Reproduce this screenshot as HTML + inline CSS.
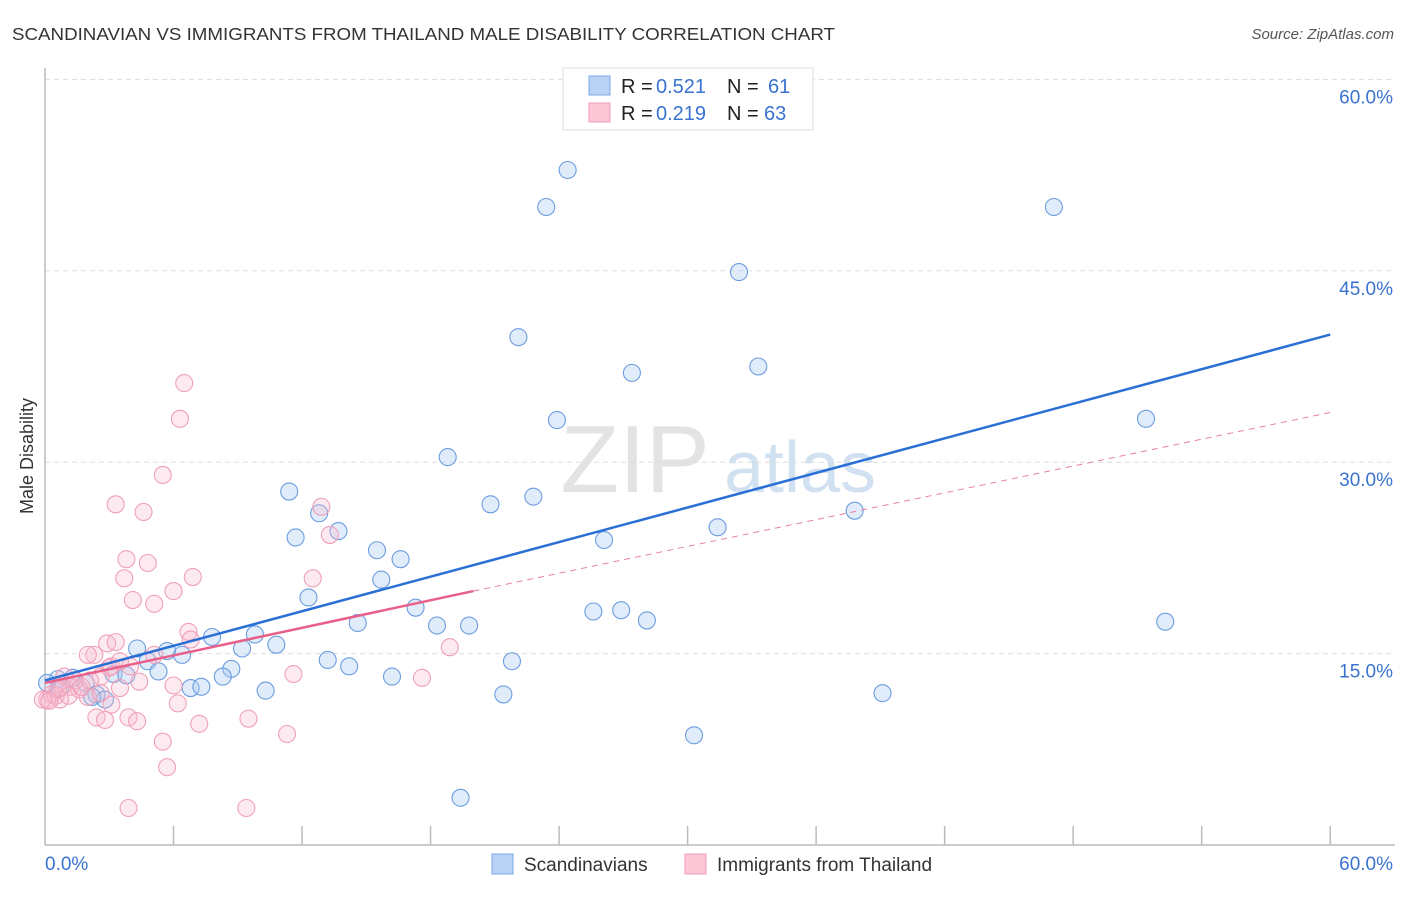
<!DOCTYPE html>
<html><head><meta charset="utf-8"><style>
body{margin:0;background:#fff;font-family:"Liberation Sans",sans-serif}
svg text{font-family:"Liberation Sans",sans-serif}
</style></head><body>
<svg width="1406" height="892" xmlns="http://www.w3.org/2000/svg">
<text x="12" y="40" font-size="17.5" fill="#333" textLength="823" lengthAdjust="spacingAndGlyphs">SCANDINAVIAN VS IMMIGRANTS FROM THAILAND MALE DISABILITY CORRELATION CHART</text>
<text x="1394" y="39" font-size="15" fill="#555" text-anchor="end" font-style="italic">Source: ZipAtlas.com</text>
<text x="33" y="456" font-size="18" fill="#333" text-anchor="middle" transform="rotate(-90 33 456)">Male Disability</text>
<g><text x="635" y="492" font-size="96" fill="#ddd" text-anchor="middle" font-family="Liberation Serif" opacity="0.8">ZIP</text><text x="800" y="492" font-size="72" fill="#c8daf0" text-anchor="middle" opacity="0.8">atlas</text></g>
<g id="grid"></g><g id="axes"></g><g id="pts"></g><g id="lines"></g>
<g>
<rect x="563" y="68" width="250" height="62" fill="#fff" stroke="#ddd"/>
<rect x="589" y="76" width="21" height="19" fill="#b8d3f5" stroke="#7aa8e8"/>
<rect x="589" y="103" width="21" height="19" fill="#fcc8d6" stroke="#f09ab3"/>
<text x="621" y="93" font-size="20" fill="#222">R = </text><text x="656" y="93" font-size="20" fill="#3a73d0">0.521</text>
<text x="727" y="93" font-size="20" fill="#222">N = </text><text x="768" y="93" font-size="20" fill="#3a73d0">61</text>
<text x="621" y="120" font-size="20" fill="#222">R = </text><text x="656" y="120" font-size="20" fill="#3a73d0">0.219</text>
<text x="727" y="120" font-size="20" fill="#222">N = </text><text x="764" y="120" font-size="20" fill="#3a73d0">63</text>
</g>
<g>
<rect x="492" y="854" width="21" height="20" fill="#b8d3f5" stroke="#7aa8e8"/>
<text x="524" y="871" font-size="19" fill="#333">Scandinavians</text>
<rect x="685" y="854" width="21" height="20" fill="#fcc8d6" stroke="#f09ab3"/>
<text x="717" y="871" font-size="19" fill="#333">Immigrants from Thailand</text>
</g>
<text x="45" y="870" font-size="19" fill="#3a73d0">0.0%</text>
<text x="1393" y="870" font-size="19" fill="#3a73d0" text-anchor="end">60.0%</text>
</svg>
<script>
const yTicks=[15,30,45,60];
const blueX=[24.4,23.4,47.1,32.4,22.1,27.4,33.3,23.9,51.4,18.8,11.4,20.8,22.8,12.8,13.7,37.8,31.4,11.7,26.1,15.5,16.6,15.7,12.3,17.3,25.6,26.9,28.1,52.3,14.6,18.3,19.8,7.8,9.8,10.8,4.3,9.2,5.7,6.4,4.8,13.2,21.8,14.2,8.7,5.3,8.3,16.2,3.2,3.8,10.3,6.8,7.3,21.4,39.1,0.6,0.1,1.3,1.9,2.4,2.8,30.3,19.4,2.2,0.7];
const blueY=[52.9,50.0,50.0,44.9,39.8,37.0,37.5,33.3,33.4,30.4,27.7,26.7,27.3,26.0,24.6,26.2,24.9,24.1,23.9,23.1,22.4,20.8,19.4,18.6,18.3,18.4,17.6,17.5,17.4,17.2,17.2,16.3,16.5,15.7,15.4,15.4,15.2,14.9,14.4,14.5,14.4,14.0,13.8,13.6,13.2,13.2,13.4,13.3,12.1,12.3,12.4,11.8,11.9,13.0,12.7,13.1,12.7,11.8,11.4,8.6,3.7,11.6,12.3];
const pinkX=[6.5,6.3,5.5,3.3,4.6,12.9,13.3,3.8,4.8,3.7,6.9,12.5,6.0,4.1,5.1,6.7,2.9,6.8,3.3,2.3,18.9,11.6,17.6,4.4,3.5,6.0,2.6,2.0,3.1,0.9,1.2,1.6,2.0,2.6,0.3,0.7,0.1,0.5,1.4,0.8,6.2,3.1,2.4,2.8,3.9,4.3,7.2,9.5,11.3,5.5,5.7,3.9,9.4,0.6,1.1,1.7,2.1,3.0,3.97,5.1,3.5,-0.1,0.2];
const pinkY=[36.2,33.4,29.0,26.7,26.1,26.5,24.3,22.4,22.1,20.9,21.0,20.9,19.9,19.2,18.9,16.7,15.8,16.1,15.9,14.9,15.5,13.4,13.1,12.8,12.3,12.5,13.2,14.9,14.0,13.2,12.4,12.2,11.6,11.9,11.8,11.4,11.4,11.7,12.9,12.4,11.1,11.0,10.0,9.8,10.0,9.7,9.5,9.9,8.7,8.1,6.1,2.9,2.9,12.2,11.7,12.4,12.9,13.9,14.0,14.9,14.4,11.4,11.3];
const blueLine=[[0,12.9],[60,40.0]];
const pinkSolid=[[0,12.7],[20,19.9]];
const pinkDash=[[20,19.9],[60,33.9]];
const X=v=>45+v*21.42, Y=v=>845-v*12.76;
const NS='http://www.w3.org/2000/svg';
function mk(t,a,p){const e=document.createElementNS(NS,t);for(const k in a)e.setAttribute(k,a[k]);document.getElementById(p).appendChild(e);return e;}
yTicks.forEach(t=>{
 const l=mk('line',{x1:45,x2:1393,y1:Y(t),y2:Y(t),stroke:'#ddd','stroke-dasharray':'5,4'},'grid');
 
 
 const tx=mk('text',{x:1393,y:Y(t)+24,'font-size':19,fill:'#3a73d0','text-anchor':'end'},'grid');
 tx.textContent=t.toFixed(1)+'%';
 
 
});
const a1=mk('line',{x1:45,x2:45,y1:68,y2:845,stroke:'#bbb','stroke-width':1.5},'axes');


const a2=mk('line',{x1:45,x2:1395,y1:845,y2:845,stroke:'#bbb','stroke-width':1.5},'axes');


for(let i=1;i<=10;i++){const t=mk('line',{x1:X(i*6),x2:X(i*6),y1:826,y2:845,stroke:'#bbb','stroke-width':1.5},'axes');
 
 }
blueX.forEach((v,i)=>{const c=mk('circle',{cx:X(v),cy:Y(blueY[i]),r:8.5,fill:'rgba(170,200,240,0.35)',stroke:'#6b9de0','stroke-width':1.1},'pts');
 
 });
pinkX.forEach((v,i)=>{const c=mk('circle',{cx:X(v),cy:Y(pinkY[i]),r:8.5,fill:'rgba(250,185,205,0.3)',stroke:'#f0a0b8','stroke-width':1.1},'pts');
 
 });
const bl=mk('line',{x1:X(blueLine[0][0]),y1:Y(blueLine[0][1]),x2:X(blueLine[1][0]),y2:Y(blueLine[1][1]),stroke:'#2a6fd6','stroke-width':2.5},'lines');


const ps=mk('line',{x1:X(pinkSolid[0][0]),y1:Y(pinkSolid[0][1]),x2:X(pinkSolid[1][0]),y2:Y(pinkSolid[1][1]),stroke:'#e8608a','stroke-width':2.5},'lines');


const pd=mk('line',{x1:X(pinkDash[0][0]),y1:Y(pinkDash[0][1]),x2:X(pinkDash[1][0]),y2:Y(pinkDash[1][1]),stroke:'#e8809f','stroke-width':1,'stroke-dasharray':'6,5'},'lines');


</script>
</body></html>
